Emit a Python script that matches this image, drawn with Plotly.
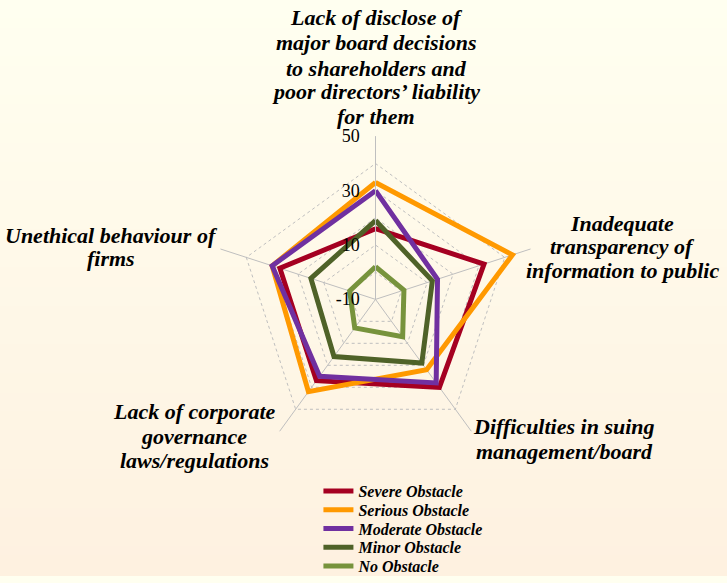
import plotly.graph_objects as go

categories = [
    "Lack of disclose of<br>major board decisions<br>to shareholders and<br>poor directors\u2019 liability<br>for them",
    "Inadequate<br>transparency of<br>information to public",
    "Difficulties in suing<br>management/board",
    "Lack of corporate<br>governance<br>laws/regulations",
    "Unethical behaviour of<br>firms",
]
series_names = ["Severe Obstacle", "Serious Obstacle", "Moderate Obstacle", "Minor Obstacle", "No Obstacle"]
severe = [16, 32, 30, 27, 27]
serious = [33, 43, 22, 32, 30]
moderate = [30, 14, 28, 25, 30]
minor = [19, 12, 19, 16, 15]
no_obstacle = [2, 1, 7, 3, 0]
series_values = [severe, serious, moderate, minor, no_obstacle]
colors = ["#A50021", "#FF9900", "#7030A0", "#4F6228", "#77933C"]
tick_vals = [-10, 0, 10, 20, 30, 40, 50]
tick_text = ["-10", "", "10", "", "30", "", "50"]

W, H = 727, 583
fig = go.Figure()
legend_y = [497, 516, 535, 554, 573]
for i, (name, vals, col) in enumerate(zip(series_names, series_values, colors)):
    lg = "legend" if i == 0 else "legend%d" % (i + 1)
    fig.add_trace(go.Scatterpolar(
        r=vals + vals[:1], theta=categories + categories[:1], mode="lines",
        name="<b><i>" + name + "</i></b>", line=dict(color=col, width=5), hoverinfo="skip",
        legend=lg))

# background gradient
shapes = []
n = 60
top = (255, 255, 240)
bot = (254, 241, 224)
for i in range(n):
    t = i / (n - 1)
    c = tuple(round(top[k] + (bot[k] - top[k]) * t) for k in range(3))
    shapes.append(dict(type="rect", xref="paper", yref="paper", x0=0, x1=1,
                       y0=1 - (i + 1) / n, y1=1 - i / n + 0.002,
                       fillcolor="rgb(%d,%d,%d)" % c, line=dict(width=0), layer="below"))

cx, cy, R = 375.5, 303, 165
lab_font = dict(family="Liberation Serif", size=22, color="black")
label_pos = [(376, [18, 43, 69, 93, 118]), (622, [226, 250, 274]), (564, [432, 457]),
             (194, [416, 442, 466]), (111, [238, 262])]
annotations = []
for txt, (x, ys) in zip(categories, label_pos):
    for line, y in zip(txt.split("<br>"), ys):
        annotations.append(dict(text="<b><i>" + line + "</i></b>", x=x / W, y=1 - y / H,
                                xref="paper", yref="paper", showarrow=False,
                                xanchor="center", yanchor="middle", font=lab_font))

legend_layout = {}
for i, yy in enumerate(legend_y):
    key = "legend" if i == 0 else "legend%d" % (i + 1)
    legend_layout[key] = dict(x=0.438, y=1 - yy / H, xanchor="left", yanchor="middle",
                              bgcolor="rgba(0,0,0,0)", borderwidth=0,
                              font=dict(family="Liberation Serif", size=16, color="black"))

fig.update_layout(
    width=W, height=H, margin=dict(l=0, r=0, t=0, b=0),
    paper_bgcolor="#FFFFF0", shapes=shapes, annotations=annotations,
    polar=dict(
        domain=dict(x=[(cx - R) / W, (cx + R) / W], y=[1 - (cy + R) / H, 1 - (cy - R) / H]),
        bgcolor="rgba(0,0,0,0)", gridshape="linear",
        radialaxis=dict(range=[-10, 50], tickvals=tick_vals, ticktext=tick_text, angle=90,
                        tickangle=90,
                        side="counterclockwise", showline=True, linecolor="#BFBFBF", linewidth=1,
                        gridcolor="#BFBFBF", griddash="dot", ticks="outside", ticklen=9,
                        tickcolor="rgba(0,0,0,0)",
                        tickfont=dict(family="Liberation Serif", size=18, color="black")),
        angularaxis=dict(rotation=90, direction="clockwise", showticklabels=False,
                         ticks="", showline=False, gridcolor="#BFBFBF"),
    ),
    showlegend=True,
    **legend_layout,
)
fig.write_html("out.html", config={"displayModeBar": False},
               post_script="document.body.style.margin='0px';document.body.style.padding='0px';")
